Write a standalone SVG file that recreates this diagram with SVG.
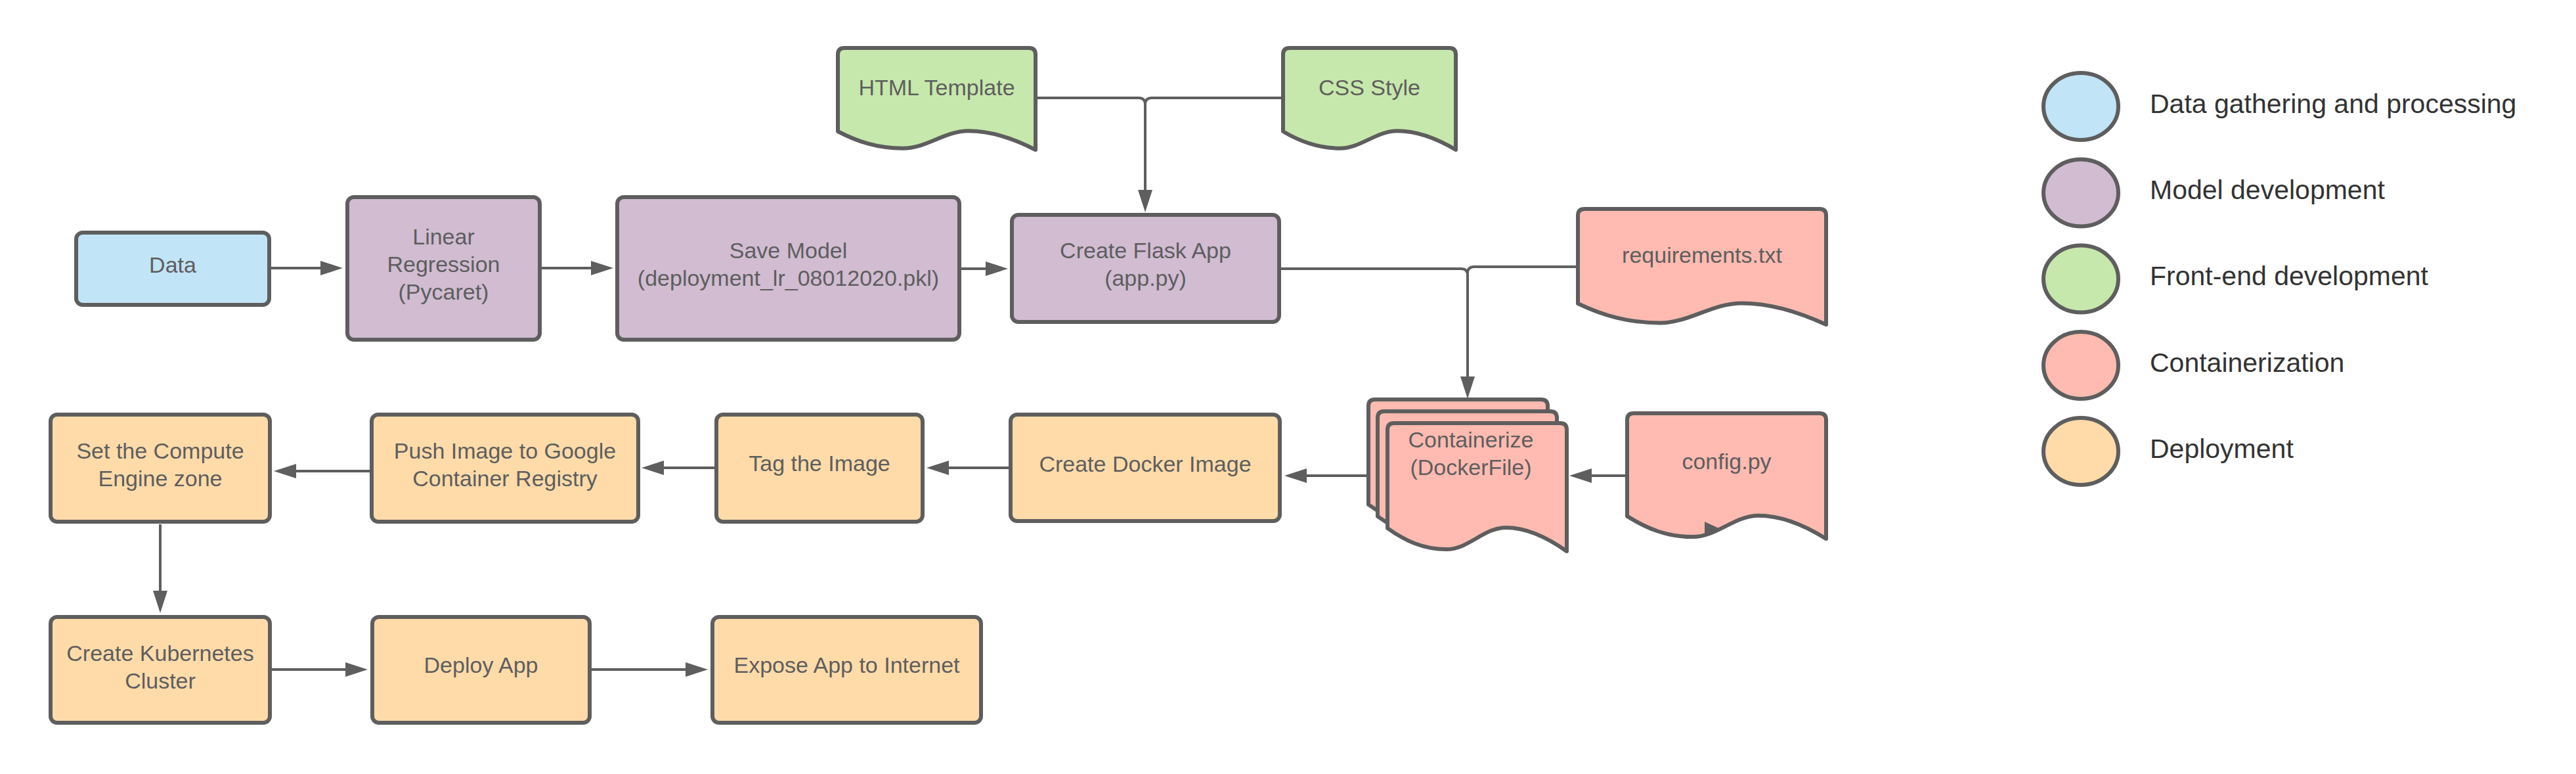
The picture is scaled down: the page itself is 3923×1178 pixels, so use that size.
<svg xmlns="http://www.w3.org/2000/svg" width="3923" height="1178" viewBox="0 0 3923 1178">
<style>
.box{stroke:#5e5e5e;stroke-width:6;stroke-linejoin:round}
.blue{fill:#c1e4f7}.purple{fill:#d1bcd2}.green{fill:#c7e8ac}.red{fill:#ffbbb1}.orange{fill:#ffdba9}
.t{font-family:"Liberation Sans",Arial,sans-serif;font-size:34px;fill:#5e5e5e;text-anchor:middle}
.lg{font-family:"Liberation Sans",Arial,sans-serif;font-size:41px;fill:#333333}
.c{fill:none;stroke:#5e5e5e;stroke-width:4}
</style>
<defs>
<marker id="arr" markerUnits="userSpaceOnUse" markerWidth="34" markerHeight="22" refX="14" refY="11" orient="auto">
<path d="M0,0 L34,11 L0,22 Z" fill="#5e5e5e"/>
</marker>
</defs>
<rect width="3923" height="1178" fill="#ffffff"/>

<g id="connectors">
<path class="c" d="M413,408 H502" marker-end="url(#arr)"/>
<path class="c" d="M825,408 H914" marker-end="url(#arr)"/>
<path class="c" d="M1464,409 H1515" marker-end="url(#arr)"/>
<path class="c" d="M1577,149 H1734 Q1744,149 1744,159 V303" marker-end="url(#arr)"/>
<path class="c" d="M1954,149 H1754 Q1744,149 1744,159"/>
<path class="c" d="M1951,409 H2225 Q2235,409 2235,419 V587" marker-end="url(#arr)"/>
<path class="c" d="M2403,406 H2245 Q2235,406 2235,416"/>
<path class="c" d="M2478,724 H2410" marker-end="url(#arr)"/>
<path class="c" d="M2084,724 H1976" marker-end="url(#arr)"/>
<path class="c" d="M1536,712 H1431" marker-end="url(#arr)"/>
<path class="c" d="M1088,712 H997" marker-end="url(#arr)"/>
<path class="c" d="M563,717 H437" marker-end="url(#arr)"/>
<path class="c" d="M244,798 V913" marker-end="url(#arr)"/>
<path class="c" d="M413,1019 H540" marker-end="url(#arr)"/>
<path class="c" d="M901,1019 H1058" marker-end="url(#arr)"/>
</g>

<g id="data">
<rect class="box blue" x="116" y="354" width="294" height="110" rx="10"/>
<text class="t" x="263" y="415">Data</text>
</g>
<g id="linear-regression">
<rect class="box purple" x="529" y="300" width="293" height="217" rx="10"/>
<text class="t" x="675.5" y="372">Linear</text>
<text class="t" x="675.5" y="414">Regression</text>
<text class="t" x="675.5" y="456">(Pycaret)</text>
</g>
<g id="save-model">
<rect class="box purple" x="940" y="300" width="521" height="217" rx="10"/>
<text class="t" x="1200.5" y="393">Save Model</text>
<text class="t" x="1200.5" y="435">(deployment_lr_08012020.pkl)</text>
</g>
<g id="create-flask-app">
<rect class="box purple" x="1541" y="327" width="407" height="163" rx="10"/>
<text class="t" x="1744.5" y="393">Create Flask App</text>
<text class="t" x="1744.5" y="435">(app.py)</text>
</g>
<g id="html-template">
<path class="box green" d="M1276,200 V83 Q1276,73 1286,73 H1567 Q1577,73 1577,83 V228 C1547,212.5 1511,199.3 1475,199.3 C1438.5,199.3 1411.5,225.7 1375,225.7 C1336,225.7 1306,215.6 1276,200 Z"/>
<text class="t" x="1426.5" y="145">HTML Template</text>
</g>
<g id="css-style">
<path class="box green" d="M1954,200 V83 Q1954,73 1964,73 H2207 Q2217,73 2217,83 V228 C2191,212.5 2159,199.3 2128,199.3 C2096,199.3 2072,225.7 2041,225.7 C2007,225.7 1980,215.6 1954,200 Z"/>
<text class="t" x="2085.5" y="145">CSS Style</text>
</g>
<g id="requirements">
<path class="box red" d="M2403,462 V328 Q2403,318 2413,318 H2771 Q2781,318 2781,328 V494 C2743,476.4 2698,461.4 2652.5,461.4 C2607,461.4 2573,491.4 2527.7,491.4 C2478.6,491.4 2440.8,479.9 2403,462 Z"/>
<text class="t" x="2592" y="400">requirements.txt</text>
</g>
<g id="config">
<path class="box red" d="M2478,785.6 V639 Q2478,629 2488,629 H2771 Q2781,629 2781,639 V820 C2750.7,800.9 2714.3,784.7 2678,784.7 C2641.6,784.7 2614.4,817.1 2578,817.1 C2538.6,817.1 2508.3,804.7 2478,785.6 Z"/>
<polygon points="2596,794 2622,806 2596,816" fill="#5e5e5e"/>
<text class="t" x="2629.5" y="714">config.py</text>
</g>
<g id="containerize">
<path class="box red" transform="translate(-29,-36)" d="M2113,803.9 V654 Q2113,644 2123,644 H2376 Q2386,644 2386,654 V839 C2358.7,819.5 2325.9,802.9 2293.2,802.9 C2260.4,802.9 2235.9,836.1 2203.1,836.1 C2167.6,836.1 2140.3,823.4 2113,803.9 Z"/>
<path class="box red" transform="translate(-15,-18)" d="M2113,803.9 V654 Q2113,644 2123,644 H2376 Q2386,644 2386,654 V839 C2358.7,819.5 2325.9,802.9 2293.2,802.9 C2260.4,802.9 2235.9,836.1 2203.1,836.1 C2167.6,836.1 2140.3,823.4 2113,803.9 Z"/>
<path class="box red" d="M2113,803.9 V654 Q2113,644 2123,644 H2376 Q2386,644 2386,654 V839 C2358.7,819.5 2325.9,802.9 2293.2,802.9 C2260.4,802.9 2235.9,836.1 2203.1,836.1 C2167.6,836.1 2140.3,823.4 2113,803.9 Z"/>
<text class="t" x="2240" y="681">Containerize</text>
<text class="t" x="2240" y="723">(DockerFile)</text>
</g>
<g id="create-docker-image">
<rect class="box orange" x="1539" y="631" width="410" height="162" rx="10"/>
<text class="t" x="1744" y="718">Create Docker Image</text>
</g>
<g id="tag-image">
<rect class="box orange" x="1091" y="631" width="314" height="163" rx="10"/>
<text class="t" x="1248" y="717">Tag the Image</text>
</g>
<g id="push-image">
<rect class="box orange" x="566" y="631" width="406" height="163" rx="10"/>
<text class="t" x="769" y="698">Push Image to Google</text>
<text class="t" x="769" y="740">Container Registry</text>
</g>
<g id="set-zone">
<rect class="box orange" x="77" y="631" width="334" height="163" rx="10"/>
<text class="t" x="244" y="698">Set the Compute</text>
<text class="t" x="244" y="740">Engine zone</text>
</g>
<g id="create-cluster">
<rect class="box orange" x="77" y="939" width="334" height="161" rx="10"/>
<text class="t" x="244" y="1006">Create Kubernetes</text>
<text class="t" x="244" y="1048">Cluster</text>
</g>
<g id="deploy-app">
<rect class="box orange" x="567" y="939" width="331" height="161" rx="10"/>
<text class="t" x="732.5" y="1024">Deploy App</text>
</g>
<g id="expose-app">
<rect class="box orange" x="1085" y="939" width="409" height="161" rx="10"/>
<text class="t" x="1289.5" y="1024">Expose App to Internet</text>
</g>

<g id="legend">
<ellipse class="box blue" cx="3169" cy="162" rx="57" ry="51"/>
<text class="lg" x="3274" y="172">Data gathering and processing</text>
<ellipse class="box purple" cx="3169" cy="293.5" rx="57" ry="51"/>
<text class="lg" x="3274" y="303">Model development</text>
<ellipse class="box green" cx="3169" cy="424.5" rx="57" ry="51"/>
<text class="lg" x="3274" y="434">Front-end development</text>
<ellipse class="box red" cx="3169" cy="556" rx="57" ry="51"/>
<text class="lg" x="3274" y="566">Containerization</text>
<ellipse class="box orange" cx="3169" cy="687" rx="57" ry="51"/>
<text class="lg" x="3274" y="697">Deployment</text>
</g>
</svg>
